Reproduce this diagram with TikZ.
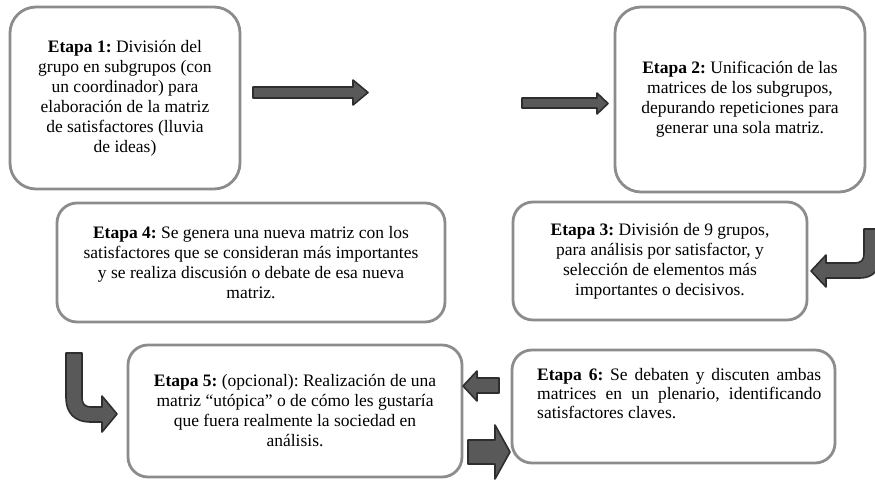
\documentclass[tikz,border=0pt]{standalone}
\usepackage{fontspec}
\setmainfont{Liberation Serif}
\frenchspacing
\begin{document}
\begin{tikzpicture}[x=1pt,y=-1pt]
\tikzset{
  stage/.style={draw=black!45, line width=2.8pt, rounded corners=20pt, fill=white,
    align=center, font=\fontsize{17.5}{20}\selectfont, inner sep=0pt},
  blockarrow/.style={fill=black!65, draw=black!82, line width=1.6pt, line join=round},
}
\fill[white] (0,0) rectangle (875,480);
\useasboundingbox (0,0) rectangle (875,480);

% Stage boxes
\node[stage, minimum width=230pt, minimum height=182pt, rounded corners=26pt] (s1) at (125,98)
  {\textbf{Etapa 1:} División del\\ grupo en subgrupos (con\\ un coordinador) para\\
   elaboración de la matriz\\ de satisfactores (lluvia\\ de ideas)};
\node[stage, minimum width=250pt, minimum height=185pt, rounded corners=26pt] (s2) at (740,99.5)
  {\textbf{Etapa 2:} Unificación de las\\ matrices de los subgrupos,\\
   depurando repeticiones para\\ generar una sola matriz.};
\node[stage, minimum width=294pt, minimum height=118pt] (s3) at (660,261)
  {\textbf{Etapa 3:} División de 9 grupos,\\ para análisis por satisfactor, y\\
   selección de elementos más\\ importantes o decisivos.};
\node[stage, minimum width=388pt, minimum height=119pt] (s4) at (251,262.5)
  {\textbf{Etapa 4:} Se genera una nueva matriz con los\\
   satisfactores que se consideran más importantes\\
   y se realiza discusión o debate de esa nueva\\ matriz.};
\node[stage, minimum width=334pt, minimum height=132pt] (s5) at (295,411)
  {\textbf{Etapa 5:} (opcional): Realización de una\\
   matriz “utópica” o de cómo les gustaría\\
   que fuera realmente la sociedad en\\ análisis.};
\node[stage, minimum width=323pt, minimum height=113pt] (s6) at (673.5,406.5) {};
\node[anchor=north west, inner sep=0pt, text width=284pt, align=justify,
  font=\fontsize{17.5}{19}\selectfont] (t6) at (537,368)
  {\textbf{Etapa 6:} Se debaten y discuten ambas\linebreak
   matrices en un plenario, identificando\linebreak
   satisfactores claves.};

% Block arrows
\draw[blockarrow] (253,87) -- (353,87) -- (353,80) -- (368,92.5) -- (353,105) -- (353,98) -- (253,98) -- cycle;
\draw[blockarrow] (522,98) -- (597,98) -- (597,93) -- (608,103.5) -- (597,114) -- (597,108) -- (522,108) -- cycle;
% right curved arrow into stage 3
\draw[blockarrow] (864,229) -- (880,229) -- (880,256)
  .. controls (880,270) and (873,278) .. (860,278) -- (826,278) -- (826,287) -- (811,271)
  -- (826,255) -- (826,263) -- (855,263) .. controls (861,263) and (864,260) .. (864,254) -- cycle;
% left curved arrow into stage 5
\draw[blockarrow] (66,353) -- (82,353) -- (82,398) .. controls (82,404) and (85,407) .. (91,407)
  -- (102,407) -- (102,396) -- (117,414) -- (102,432) -- (102,422) -- (90,422)
  .. controls (75,422) and (66,413) .. (66,398) -- cycle;
% arrow from stage 6 to stage 5
\draw[blockarrow] (499,378) -- (477,378) -- (477,371) -- (463,386) -- (477,401) -- (477,393) -- (499,393) -- cycle;
% arrow from stage 5 to stage 6
\draw[blockarrow] (468,440) -- (495,440) -- (495,425) -- (510,452) -- (495,479) -- (495,464) -- (468,464) -- cycle;
\end{tikzpicture}
\end{document}
